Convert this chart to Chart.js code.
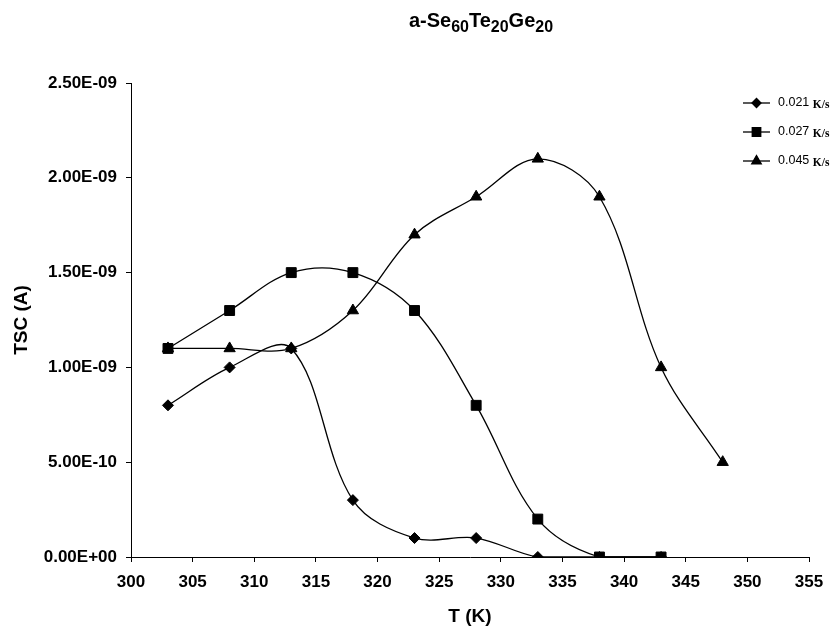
<!DOCTYPE html>
<html>
<head>
<meta charset="utf-8">
<script src="https://cdn.jsdelivr.net/npm/chart.js@4/dist/chart.umd.min.js"></script>
<style>
  body { margin: 0; background: #fff; }
  #wrap { width: 839px; height: 629px; }
</style>
</head>
<body>
<div id="wrap"><canvas id="myChart" width="839" height="629"></canvas></div>
<script>
// temperatures (K) and TSC values (A)
const temps = [303, 308, 313, 318, 323, 328, 333, 338, 343, 348];
const tsc021 = [8.0e-10, 1.0e-9, 1.1e-9, 3.0e-10, 1.0e-10, 1.0e-10, 0, 0, 0];
const tsc027 = [1.1e-9, 1.3e-9, 1.5e-9, 1.5e-9, 1.3e-9, 8.0e-10, 2.0e-10, 0, 0];
const tsc045 = [1.1e-9, 1.1e-9, 1.1e-9, 1.3e-9, 1.7e-9, 1.9e-9, 2.1e-9, 1.9e-9, 1.0e-9, 5.0e-10];
const rates = ['0.021', '0.027', '0.045'];
const markers = ['rectRot', 'rect', 'triangle'];

function pts(vals) {
    return vals.map((v, i) => ({ x: temps[i], y: v }));
}

function sciLabel(v) {
    let parts = Number(v).toExponential(2).split('e');
    let e = parseInt(parts[1], 10);
    let sign = e < 0 ? '-' : '+';
    e = Math.abs(e);
    return parts[0] + 'E' + sign + (e < 10 ? '0' + e : '' + e);
}

const radii = { rectRot: 5.5, rect: 7, triangle: 6.5 };

function makeSet(i, vals) {
    return {
        label: rates[i],
        data: pts(vals),
        borderColor: '#000',
        backgroundColor: '#000',
        borderWidth: 1.3,
        pointStyle: markers[i],
        pointRadius: radii[markers[i]],
        pointBorderWidth: 1,
        tension: 0.35,
        fill: false
    };
}

// title with subscripts + legend with the serif "K/s" unit
const extras = {
    id: 'extras',
    afterDraw(chart) {
        const ctx = chart.ctx;
        ctx.save();
        ctx.fillStyle = '#000';
        ctx.textBaseline = 'alphabetic';
        // title
        const bits = [['a-Se', 0], ['60', 1], ['Te', 0], ['20', 1], ['Ge', 0], ['20', 1]];
        const big = 'bold 20px "Liberation Sans", Arial, sans-serif';
        const small = 'bold 16px "Liberation Sans", Arial, sans-serif';
        let w = 0;
        bits.forEach(b => { ctx.font = b[1] ? small : big; w += ctx.measureText(b[0]).width; });
        let x = 481 - w / 2;
        bits.forEach(b => {
            ctx.font = b[1] ? small : big;
            ctx.fillText(b[0], x, b[1] ? 32 : 27);
            x += ctx.measureText(b[0]).width;
        });
        // legend
        chart.data.datasets.forEach((ds, i) => {
            const y = 103 + i * 29;
            ctx.strokeStyle = '#000';
            ctx.lineWidth = 1.3;
            ctx.beginPath();
            ctx.moveTo(743, y);
            ctx.lineTo(770, y);
            ctx.stroke();
            Chart.helpers.drawPoint(ctx, {
                pointStyle: ds.pointStyle, radius: ds.pointRadius - 1, borderWidth: 1, rotation: 0
            }, 756.5, y);
            ctx.fill();
            ctx.textBaseline = 'middle';
            ctx.font = '12.5px "Liberation Sans", Arial, sans-serif';
            ctx.fillText(ds.label + ' ', 778, y);
            let tx = 778 + ctx.measureText(ds.label + ' ').width;
            ctx.font = 'bold 11.5px "Liberation Serif", "Times New Roman", serif';
            ctx.fillText('K/s', tx, y + 2);
        });
        ctx.restore();
    }
};

const config = {
    type: 'line',
    data: {
        datasets: [makeSet(0, tsc021), makeSet(1, tsc027), makeSet(2, tsc045)]
    },
    options: {
        responsive: false,
        animation: false,
        layout: { padding: { top: 83, right: 30, bottom: 0, left: 0 } },
        plugins: {
            legend: { display: false },
            tooltip: { enabled: false }
        },
        scales: {
            x: {
                type: 'linear',
                min: 300,
                max: 355,
                afterFit: s => { s.height = 72; },
                ticks: {
                    stepSize: 5,
                    color: '#000',
                    padding: 10,
                    maxRotation: 0,
                    font: { family: '"Liberation Sans", Arial, sans-serif', size: 17, weight: 'bold' }
                },
                grid: { drawOnChartArea: false, tickLength: 5, color: '#000' },
                border: { color: '#000', width: 1 },
                title: {
                    display: true,
                    text: 'T (K)',
                    color: '#000',
                    padding: { top: 0, bottom: 1 },
                    font: { family: '"Liberation Sans", Arial, sans-serif', size: 19, weight: 'bold' }
                }
            },
            y: {
                min: 0,
                max: 2.5e-9,
                afterFit: s => { s.width = 131; },
                ticks: {
                    stepSize: 5e-10,
                    color: '#000',
                    padding: 9,
                    callback: v => sciLabel(v),
                    font: { family: '"Liberation Sans", Arial, sans-serif', size: 17, weight: 'bold' }
                },
                grid: { drawOnChartArea: false, tickLength: 5, color: '#000' },
                border: { color: '#000', width: 1 },
                title: {
                    display: true,
                    text: 'TSC (A)',
                    color: '#000',
                    padding: { top: 10, bottom: 0 },
                    font: { family: '"Liberation Sans", Arial, sans-serif', size: 19, weight: 'bold' }
                }
            }
        }
    },
    plugins: [extras]
};

const myChart = new Chart(document.getElementById('myChart'), config);
</script>
</body>
</html>
